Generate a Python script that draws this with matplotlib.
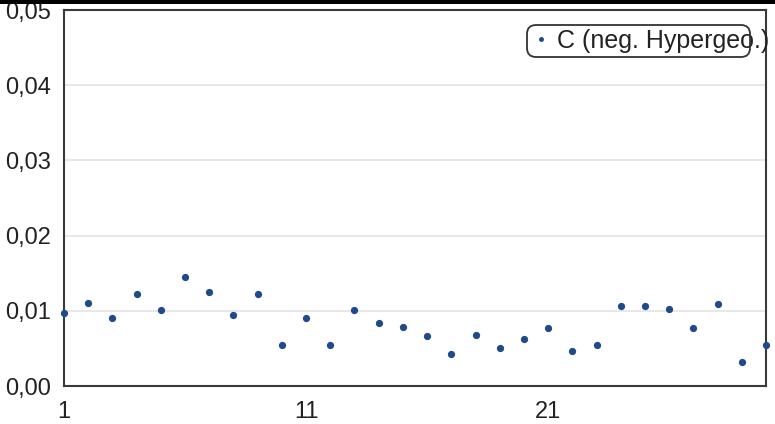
import matplotlib
matplotlib.use("Agg")
import matplotlib.pyplot as plt
from matplotlib.patches import FancyBboxPatch, Rectangle
from matplotlib.ticker import FuncFormatter

plt.rcParams['font.family'] = ['Liberation Sans', 'DejaVu Sans']

# values per index
idx = list(range(1, 31))
c_vals = [0.0097, 0.0110, 0.0090, 0.0123, 0.0101, 0.0145, 0.0125, 0.0094, 0.0122, 0.0054,
          0.0091, 0.0054, 0.0101, 0.0084, 0.0078, 0.0067, 0.0043, 0.0068, 0.0050, 0.0063,
          0.0077, 0.0046, 0.0055, 0.0106, 0.0106, 0.0102, 0.0077, 0.0109, 0.0032, 0.0054]
series_name = "C (neg. Hypergeo.)"
xticks = [1, 11, 21]
yticks = [0.00, 0.01, 0.02, 0.03, 0.04, 0.05]

fig = plt.figure(figsize=(7.75, 4.24), dpi=100)
ax = fig.add_axes([64/775, 1-386/424, 702/775, 376/424])

ax.plot(idx, c_vals, linestyle="none", marker="o", markersize=4.2,
        color="#1f4a8c", label=series_name, clip_on=False, zorder=3)

ax.set_xlim(1, 30)
ax.set_ylim(0, 0.05)
ax.set_xticks(xticks)
ax.set_yticks(yticks)
ax.yaxis.set_major_formatter(FuncFormatter(lambda v, p: f"{v:.2f}".replace(".", ",")))
ax.tick_params(length=0, labelsize=17, colors="#222222")
ax.tick_params(axis="y", pad=9)
ax.tick_params(axis="x", pad=10.5)
ax.grid(axis="y", color="#e6e6e6", linewidth=1.3)
ax.set_axisbelow(True)
for s in ax.spines.values():
    s.set_color("#3a3a3a")
    s.set_linewidth(1.5)

# legend: rounded frame drawn separately, text overflows it
leg = ax.legend(loc="center left", bbox_to_anchor=(472/702, 1-31/376), frameon=False,
                fontsize=18, handlelength=0.4, handletextpad=0.45, borderpad=0,
                borderaxespad=0, markerscale=0.6)
for t in leg.get_texts():
    t.set_color("#222222")
box = FancyBboxPatch((527, 424-57), 223, 32, boxstyle="round,pad=0,rounding_size=9",
                     transform=None, facecolor="none", edgecolor="#333333", linewidth=1.3,
                     zorder=5)
fig.patches.append(box)

# dark strip along the top edge
fig.patches.append(Rectangle((0, 1-4/424), 1, 4/424, transform=fig.transFigure,
                             facecolor="black", edgecolor="none", zorder=10))

fig.savefig("out.png", dpi=100)
